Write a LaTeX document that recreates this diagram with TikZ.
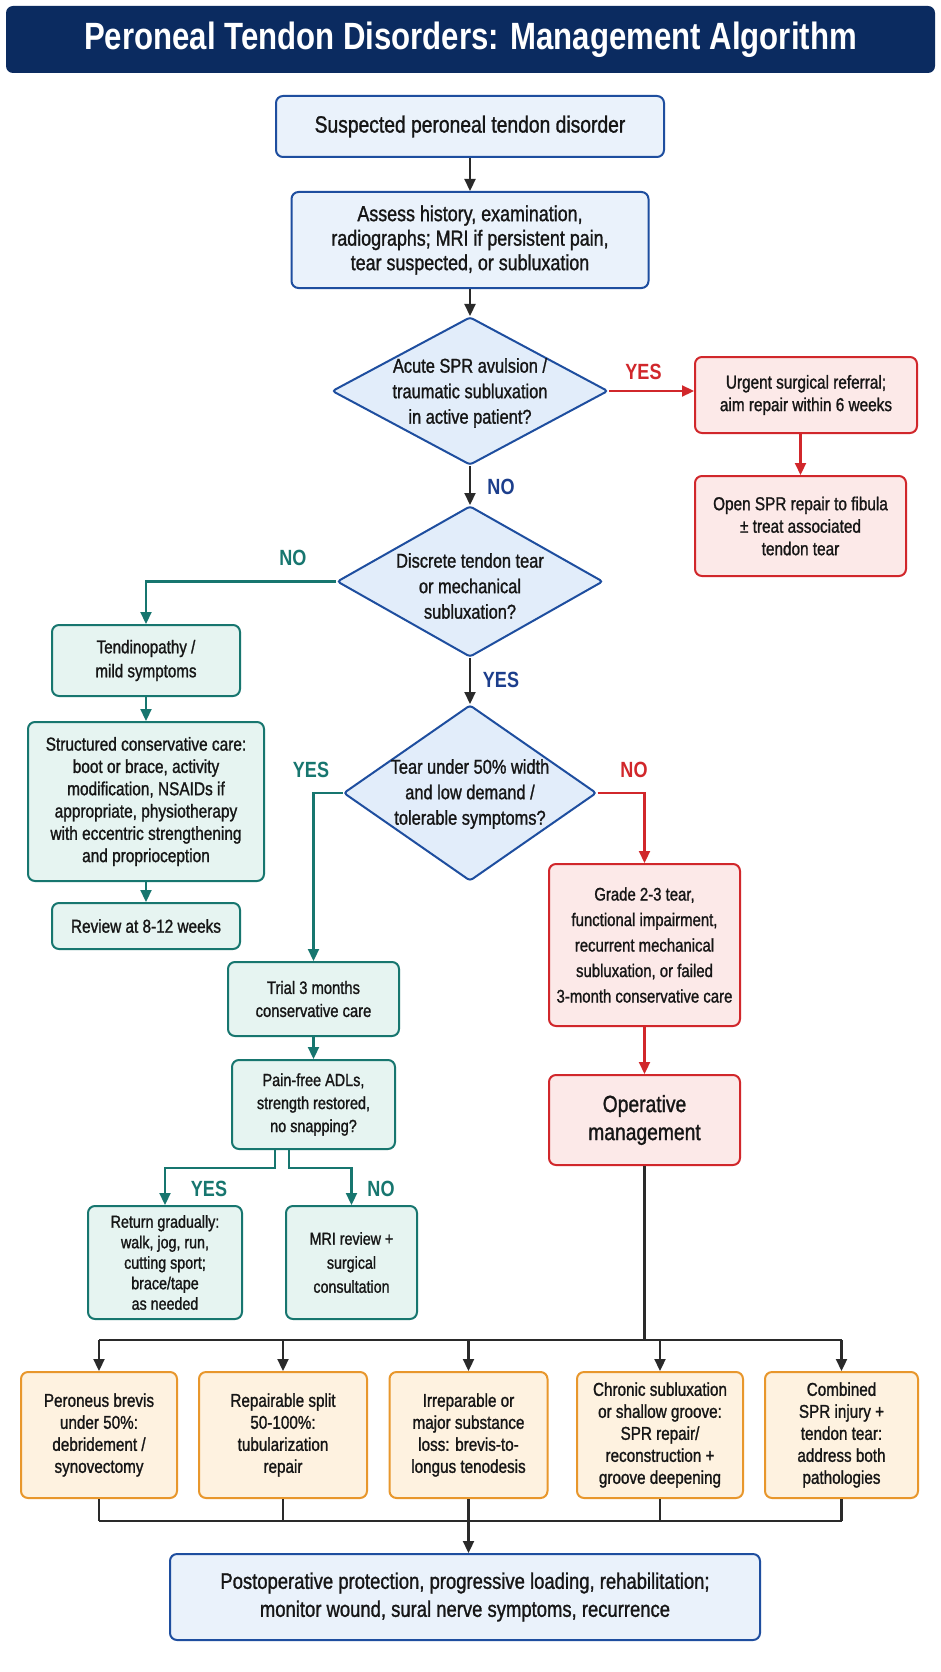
\documentclass[tikz,border=0pt]{standalone}
\usepackage{fontspec}
\setmainfont{Liberation Sans}[FakeStretch=0.82,UprightFeatures={FakeBold=1.2}]
\usetikzlibrary{shapes.geometric,arrows.meta}
\definecolor{navy}{HTML}{0B2B60}
\definecolor{blueln}{HTML}{1E4E9F}
\definecolor{bluebg}{HTML}{EAF2FB}
\definecolor{diabg}{HTML}{E2EDFA}
\definecolor{redln}{HTML}{D1272B}
\definecolor{redbg}{HTML}{FCE9E8}
\definecolor{tealln}{HTML}{17766F}
\definecolor{tealbg}{HTML}{E6F4F1}
\definecolor{orln}{HTML}{E8972C}
\definecolor{orbg}{HTML}{FEF2E0}
\definecolor{ink}{HTML}{161616}
\definecolor{wirec}{HTML}{2A2A2A}
\definecolor{labblue}{HTML}{1C3E8C}

\begin{document}
\begin{tikzpicture}[x=1pt,y=-1pt,
    >={Triangle[length=12pt,width=11pt]},
    box/.style={rectangle,rounded corners=7pt,line width=2pt,align=center,inner sep=0pt,text=ink},
    bluebox/.style={box,draw=blueln,fill=bluebg},
    redbox/.style={box,draw=redln,fill=redbg,font=\fontsize{18.7}{22.5}\selectfont},
    tealbox/.style={box,draw=tealln,fill=tealbg,font=\fontsize{18.7}{23}\selectfont},
    orbox/.style={box,draw=orln,fill=orbg,minimum height=126pt,font=\fontsize{18.6}{22}\selectfont},
    dia/.style={diamond,draw=blueln,fill=diabg,line width=2pt,inner sep=0pt,rounded corners=3pt},
    qtext/.style={align=center,text=ink,font=\fontsize{20}{25.5}\selectfont},
    yn/.style={font=\bfseries\fontsize{22}{24}\selectfont},
    wire/.style={draw=wirec,line width=2.2pt},
    redwire/.style={draw=redln,line width=2.2pt},
    tealwire/.style={draw=tealln,line width=2.2pt}]

    \useasboundingbox (0,0) rectangle (941,1672);
    \fill[white] (0,0) rectangle (941,1672);

    \node (title) at (470.5,39.5) [rectangle,rounded corners=7pt,fill=navy,minimum width=929pt,minimum height=67pt,text=white,font=\bfseries\fontsize{38}{40}\selectfont] {Peroneal Tendon Disorders: Management Algorithm};

    \node (start) at (470,126.5) [bluebox,minimum width=388pt,minimum height=61pt,font=\fontsize{23.5}{26}\selectfont] {Suspected peroneal tendon disorder};
    \node (assess) at (470,240) [bluebox,minimum width=357pt,minimum height=96pt,font=\fontsize{21.8}{24.5}\selectfont] {Assess history, examination,\\radiographs; MRI if persistent pain,\\tear suspected, or subluxation};

    \node (acute) at (470,391) [dia,minimum width=276pt,minimum height=148pt] {};
    \node (acutet) at (470,393) [qtext] {Acute SPR avulsion /\\traumatic subluxation\\in active patient?};
    \node (urgent) at (806,395) [redbox,minimum width=222pt,minimum height=76pt] {Urgent surgical referral;\\aim repair within 6 weeks};
    \node (opensp) at (800.5,526) [redbox,minimum width=211pt,minimum height=100pt] {Open SPR repair to fibula\\± treat associated\\tendon tear};

    \node (discrete) at (470,581.5) [dia,minimum width=266pt,minimum height=151pt] {};
    \node (discretet) at (470,586) [qtext] {Discrete tendon tear\\or mechanical\\subluxation?};
    \node (tendino) at (146,660.5) [tealbox,minimum width=188pt,minimum height=71pt,font=\fontsize{18.5}{24}\selectfont] {Tendinopathy /\\mild symptoms};
    \node (struct) at (146,801.5) [tealbox,minimum width=236pt,minimum height=159pt,font=\fontsize{18.8}{22.3}\selectfont] {Structured conservative care:\\boot or brace, activity\\modification, NSAIDs if\\appropriate, physiotherapy\\with eccentric strengthening\\and proprioception};
    \node (review) at (146,926) [tealbox,minimum width=188pt,minimum height=46pt] {Review at 8-12 weeks};

    \node (tear) at (470,793) [dia,minimum width=253pt,minimum height=176pt] {};
    \node (teart) at (470,794) [qtext] {Tear under 50\% width\\and low demand /\\tolerable symptoms?};
    \node (trial) at (313.5,999) [tealbox,minimum width=171pt,minimum height=74pt,font=\fontsize{18}{23}\selectfont] {Trial 3 months\\conservative care};
    \node (painfree) at (313.5,1104.5) [tealbox,minimum width=163pt,minimum height=89pt,font=\fontsize{17.6}{23}\selectfont] {Pain-free ADLs,\\strength restored,\\no snapping?};
    \node (gradual) at (165,1262.5) [tealbox,minimum width=154pt,minimum height=113pt,font=\fontsize{17.4}{20.5}\selectfont] {Return gradually:\\walk, jog, run,\\cutting sport;\\brace/tape\\as needed};
    \node (mri) at (351.5,1262.5) [tealbox,minimum width=131pt,minimum height=113pt,font=\fontsize{17.4}{24}\selectfont] {MRI review +\\surgical\\consultation};

    \node (grade) at (644.5,945) [redbox,minimum width=191pt,minimum height=162pt,font=\fontsize{18.2}{25.5}\selectfont] {Grade 2-3 tear,\\functional impairment,\\recurrent mechanical\\subluxation, or failed\\3-month conservative care};
    \node (operative) at (644.5,1120) [redbox,minimum width=191pt,minimum height=90pt,font=\fontsize{23.5}{28}\selectfont] {Operative\\management};

    \node (brevis) at (99,1435) [orbox,minimum width=156pt] {Peroneus brevis\\under 50\%:\\debridement /\\synovectomy};
    \node (split) at (283,1435) [orbox,minimum width=168pt] {Repairable split\\50-100\%:\\tubularization\\repair};
    \node (tenodesis) at (468.5,1435) [orbox,minimum width=158pt] {Irreparable or\\major substance\\loss: brevis-to-\\longus tenodesis};
    \node (groove) at (660,1435) [orbox,minimum width=166pt] {Chronic subluxation\\or shallow groove:\\SPR repair/\\reconstruction +\\groove deepening};
    \node (combined) at (841.5,1435) [orbox,minimum width=153pt] {Combined\\SPR injury +\\tendon tear:\\address both\\pathologies};

    \node (postop) at (465,1597) [bluebox,minimum width=590pt,minimum height=86pt,font=\fontsize{22.5}{28}\selectfont] {Postoperative protection, progressive loading, rehabilitation;\\monitor wound, sural nerve symptoms, recurrence};

    \draw[wire,->] (start) -- (assess);
    \draw[wire,->] (assess) -- (acute);
    \draw[redwire,->] (acute.east) -- (acute.east -| urgent.west);
    \draw[redwire,->] (urgent.south -| opensp.north) -- (opensp.north);
    \draw[wire,->] (acute) -- (discrete);
    \draw[tealwire,->] (discrete.west) -| (tendino.north);
    \draw[tealwire,->] (tendino) -- (struct);
    \draw[tealwire,->] (struct) -- (review);
    \draw[wire,->] (discrete) -- (tear);
    \draw[tealwire,->] (tear.west) -| (trial.north);
    \draw[redwire,->] (tear.east) -| (grade.north);
    \draw[tealwire,->] (trial) -- (painfree);
    \draw[tealwire,->] ([xshift=-38.5pt]painfree.south) -- ++(0,18) -| (gradual.north);
    \draw[tealwire,->] ([xshift=-24.5pt]painfree.south) -- ++(0,18) -| (mri.north);
    \draw[redwire,->] (grade) -- (operative);

    \coordinate (fan) at (644.5,1340);
    \draw[wire] (operative.south) -- (fan);
    \draw[wire] (fan -| brevis.north) -- (fan -| combined.north);
    \foreach \n in {brevis,split,tenodesis,groove,combined}
      \draw[wire,->] (fan -| \n.north) -- (\n.north);
    \coordinate (merge) at (468.5,1521);
    \foreach \n in {brevis,split,groove,combined}
      \draw[wire] (\n.south) -- (merge -| \n.south);
    \draw[wire] (merge -| brevis.south) -- (merge -| combined.south);
    \draw[wire,->] (tenodesis.south) -- (postop.north -| tenodesis.south);

    \node (yes1) at (643.5,372) [yn,text=redln] {YES};
    \node (no1) at (501,487) [yn,text=labblue] {NO};
    \node (no2) at (293,558) [yn,text=tealln] {NO};
    \node (yes2) at (501,680) [yn,text=labblue] {YES};
    \node (yes3) at (311,770) [yn,text=tealln] {YES};
    \node (no3) at (634,770) [yn,text=redln] {NO};
    \node (yes4) at (209,1189) [yn,text=tealln] {YES};
    \node (no4) at (381,1189) [yn,text=tealln] {NO};

  \end{tikzpicture}
\end{document}
